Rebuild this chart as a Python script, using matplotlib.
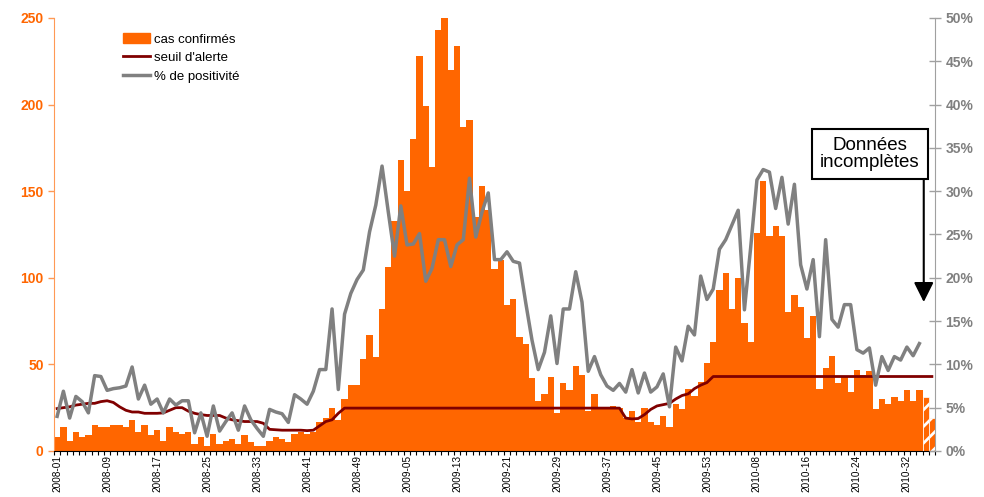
import numpy as np
import matplotlib.pyplot as plt
from matplotlib.patches import Patch
from matplotlib.lines import Line2D

plt.rcParams['font.family'] = ['Liberation Sans', 'DejaVu Sans']
plt.rcParams['hatch.linewidth'] = 2.0

# semaines (categories)
semaines = ([f"2008-{w:02d}" for w in range(1, 53)]
            + [f"2009-{w:02d}" for w in range(1, 54)]
            + [f"2010-{w:02d}" for w in range(1, 37)])

# cas confirmes par semaine
cas = [8, 14, 6, 11, 8, 9, 15, 14, 14, 15,
       15, 14, 18, 11, 15, 9, 12, 6, 14, 11,
       10, 11, 4, 8, 3, 10, 4, 6, 7, 4,
       9, 5, 3, 3, 6, 8, 7, 5, 10, 11,
       10, 11, 17, 19, 25, 18, 30, 38, 38, 53,
       67, 54, 82, 106, 133, 168, 150, 180, 228, 199,
       164, 243, 250, 220, 234, 187, 191, 135, 153, 139,
       105, 110, 84, 88, 66, 62, 42, 29, 33, 43,
       22, 39, 35, 49, 44, 23, 33, 24, 25, 26,
       25, 19, 23, 17, 25, 17, 15, 20, 14, 27,
       24, 36, 32, 40, 51, 63, 93, 103, 82, 100,
       74, 63, 126, 156, 124, 130, 124, 80, 90, 83,
       65, 78, 36, 48, 55, 39, 43, 34, 47, 44,
       46, 24, 30, 27, 31, 29, 35, 29, 35, 31, 19]
n_incompletes = 2  # dernieres semaines (donnees incompletes)

# % de positivite
positivite = [4.0, 6.9, 3.8, 6.3, 5.7, 4.4, 8.7, 8.6, 7.0, 7.2,
              7.3, 7.5, 9.7, 6.0, 7.6, 5.4, 6.0, 4.4, 6.0, 5.3,
              5.8, 5.8, 2.1, 4.4, 1.7, 5.2, 2.3, 3.4, 4.4, 2.4,
              5.2, 3.6, 2.6, 1.7, 4.8, 4.5, 4.3, 3.3, 6.5, 6.0,
              5.4, 6.9, 9.4, 9.4, 16.4, 7.1, 15.8, 18.2, 19.8, 20.9,
              25.3, 28.4, 32.9, 27.6, 22.5, 28.3, 23.8, 23.9, 25.1, 19.6,
              21.1, 24.4, 24.4, 21.3, 23.8, 24.4, 31.5, 24.7, 27.6, 29.8,
              22.1, 22.1, 23.0, 21.9, 21.7, 17.1, 12.8, 9.4, 11.4, 15.6,
              10.1, 16.4, 16.4, 20.7, 17.2, 9.2, 10.9, 8.8, 7.5, 7.0,
              7.8, 6.8, 9.4, 6.7, 9.0, 6.8, 7.4, 8.9, 5.1, 12.0,
              10.4, 14.4, 13.4, 20.2, 17.5, 18.7, 23.3, 24.4, 26.1, 27.8,
              16.3, 23.5, 31.3, 32.5, 32.2, 28.0, 31.6, 26.2, 30.8, 21.5,
              18.7, 22.1, 13.2, 24.4, 15.2, 14.3, 16.9, 16.9, 11.7, 11.3,
              11.9, 7.6, 10.9, 9.3, 10.9, 10.5, 12.0, 11.0, 12.4]

# seuil d'alerte (en %)
seuil = [4.9, 5.0, 5.1, 5.3, 5.4, 5.5, 5.5, 5.7, 5.8, 5.6,
         5.1, 4.7, 4.5, 4.5, 4.35, 4.35, 4.35, 4.4, 4.7, 5.0,
         5.0, 4.6, 4.35, 4.2, 4.1, 4.1, 4.1, 3.8, 3.6, 3.5,
         3.4, 3.4, 3.4, 3.2, 2.5, 2.45, 2.4, 2.4, 2.4, 2.4,
         2.35, 2.4, 2.9, 3.4, 3.6, 4.35, 4.95, 4.95, 4.95, 4.95,
         4.95, 4.95, 4.95, 4.95, 4.95, 4.95, 4.95, 4.95, 4.95, 4.95,
         4.95, 4.95, 4.95, 4.95, 4.95, 4.95, 4.95, 4.95, 4.95, 4.95,
         4.95, 4.95, 4.95, 4.95, 4.95, 4.95, 4.95, 4.95, 4.95, 4.95,
         4.95, 4.95, 4.95, 4.95, 4.95, 4.95, 4.95, 4.95, 4.95, 4.95,
         4.95, 3.8, 3.7, 3.75, 4.2, 4.8, 5.2, 5.35, 5.5, 6.0,
         6.4, 6.6, 7.2, 7.6, 7.9, 8.6, 8.6, 8.6, 8.6, 8.6,
         8.6, 8.6, 8.6, 8.6, 8.6, 8.6, 8.6, 8.6, 8.6, 8.6,
         8.6, 8.6, 8.6, 8.6, 8.6, 8.6, 8.6, 8.6, 8.6, 8.6,
         8.6, 8.6, 8.6, 8.6, 8.6, 8.6, 8.6, 8.6, 8.6, 8.6, 8.6]

orange = '#FF6600'
gris = '#808080'
rouge = '#800000'

x = np.arange(len(semaines))

fig = plt.figure(figsize=(9.84, 4.97), dpi=100)
ax = fig.add_axes([0.0549, 0.0926, 0.8953, 0.8712])

barres = ax.bar(x, cas, width=1.0, color=orange, linewidth=0)
for b in barres[-n_incompletes:]:
    b.set_hatch('//')
    b.set_edgecolor('white')
    b.set_linewidth(0.5)

ax.set_xlim(-0.5, len(x) - 0.5)
ax.set_ylim(0, 250)
ax.set_yticks(np.arange(0, 251, 50))
ax.spines['top'].set_visible(False)
ax.spines['right'].set_visible(False)
ax.spines['left'].set_color('#FF9955')
ax.spines['bottom'].set_color('black')
ax.tick_params(axis='y', colors=orange, labelsize=10, length=4, width=1)
ax.tick_params(axis='y', color='#FF9955')
for t in ax.get_yticklabels():
    t.set_fontweight('bold')

# ticks x : libelles toutes les 8 semaines, petits traits a chaque semaine
ax.set_xticks(x[::8])
ax.set_xticklabels(semaines[::8], rotation=90, fontsize=7.2)
ax.tick_params(axis='x', which='major', length=0, pad=3)
ax.set_xticks(np.arange(-0.5, len(x), 1), minor=True)
ax.tick_params(axis='x', which='minor', length=3, width=0.8, color='black')

ax2 = ax.twinx()
ax2.set_ylim(0, 50)
ax2.set_yticks(np.arange(0, 51, 5))
ax2.set_yticklabels([f"{v}%" for v in range(0, 51, 5)])
for s in ['top', 'left', 'bottom']:
    ax2.spines[s].set_visible(False)
ax2.spines['right'].set_color('#A0A0A0')
ax2.tick_params(axis='y', colors=gris, labelsize=10, direction='inout', length=8, width=1)
ax2.tick_params(axis='y', color='#A0A0A0')
for t in ax2.get_yticklabels():
    t.set_fontweight('bold')

ax2.plot(x, seuil, color=rouge, lw=2)
ax2.plot(x[:len(positivite)], positivite, color=gris, lw=2.5)

poignees = [Patch(color=orange),
            Line2D([], [], color=rouge, lw=2),
            Line2D([], [], color=gris, lw=2.5)]
ax2.legend(poignees, ['cas confirmés', "seuil d'alerte", '% de positivité'],
           loc='upper left', bbox_to_anchor=(0.065, 0.993), frameon=False,
           fontsize=9.5, handlelength=2.0, handleheight=0.8,
           handletextpad=0.3, labelspacing=0.45)

ax2.text(130.1, 34.3, "Données\nincomplètes", ha='center', va='center',
         fontsize=13.5, linespacing=1.0, zorder=5,
         bbox=dict(boxstyle='square,pad=0.45', fc='white', ec='black', lw=1.5))
ax2.annotate('', xy=(138.7, 17.2), xytext=(138.7, 31.3),
             arrowprops=dict(arrowstyle='-|>,head_length=0.6,head_width=0.3',
                             color='black', lw=1.5, mutation_scale=20,
                             shrinkA=0, shrinkB=0))

fig.savefig('out.png', dpi=100)
